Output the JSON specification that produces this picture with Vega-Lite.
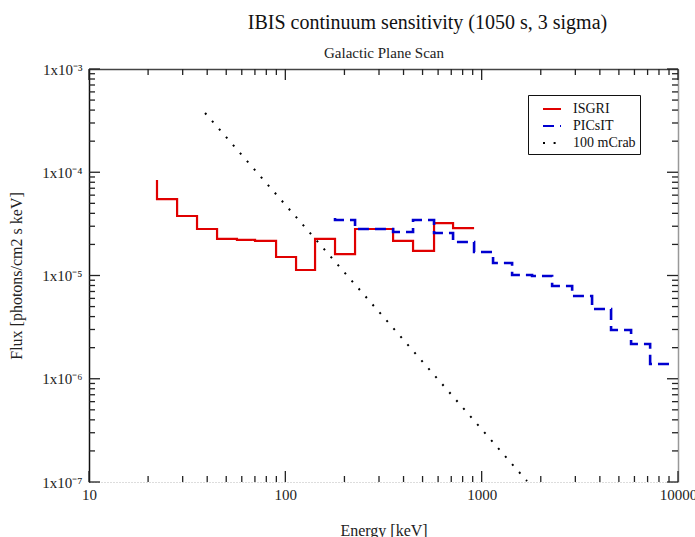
{
  "$schema": "https://vega.github.io/schema/vega-lite/v6.json",
  "width": 589,
  "height": 413,
  "autosize": "none",
  "padding": {"left": 89, "top": 69, "right": 17, "bottom": 55},
  "background": "white",
  "title": {"text": "IBIS continuum sensitivity (1050 s, 3 sigma)", "font": "Liberation Serif", "fontSize": 20, "fontWeight": "normal", "color": "#111", "anchor": "middle", "dx": 44, "dy": -6, "offset": 6},
  "config": {
    "font": "Liberation Serif",
    "view": {"stroke": null},
    "axis": {"grid": false, "labelFont": "Liberation Serif", "labelColor": "#222", "titleFont": "Liberation Serif", "titleFontWeight": "normal", "titleColor": "#222", "labelOverlap": false, "labelFlush": false}
  },
  "datasets": {
    "xminor": [{"E": 20}, {"E": 30}, {"E": 40}, {"E": 50}, {"E": 60}, {"E": 70}, {"E": 80}, {"E": 90}, {"E": 200}, {"E": 300}, {"E": 400}, {"E": 500}, {"E": 600}, {"E": 700}, {"E": 800}, {"E": 900}, {"E": 2000}, {"E": 3000}, {"E": 4000}, {"E": 5000}, {"E": 6000}, {"E": 7000}, {"E": 8000}, {"E": 9000}],
    "xmajor": [{"E": 10}, {"E": 100}, {"E": 1000}, {"E": 10000}],
    "yminor": [{"F": 2e-7}, {"F": 3e-7}, {"F": 4e-7}, {"F": 5e-7}, {"F": 6e-7}, {"F": 7e-7}, {"F": 8e-7}, {"F": 9e-7}, {"F": 2e-6}, {"F": 3e-6}, {"F": 4e-6}, {"F": 5e-6}, {"F": 6e-6}, {"F": 7e-6}, {"F": 8e-6}, {"F": 9e-6}, {"F": 2e-5}, {"F": 3e-5}, {"F": 4e-5}, {"F": 5e-5}, {"F": 6e-5}, {"F": 7e-5}, {"F": 8e-5}, {"F": 9e-5}, {"F": 2e-4}, {"F": 3e-4}, {"F": 4e-4}, {"F": 5e-4}, {"F": 6e-4}, {"F": 7e-4}, {"F": 8e-4}, {"F": 9e-4}],
    "ymajor": [{"F": 1e-7}, {"F": 1e-6}, {"F": 1e-5}, {"F": 1e-4}, {"F": 1e-3}]
  },
  "data": {"values": [
    {"series": "ISGRI", "E": 22.2, "F": 8.4e-5},
    {"series": "ISGRI", "E": 28.1, "F": 5.5e-5},
    {"series": "ISGRI", "E": 35.5, "F": 3.77e-5},
    {"series": "ISGRI", "E": 44.9, "F": 2.82e-5},
    {"series": "ISGRI", "E": 56.7, "F": 2.26e-5},
    {"series": "ISGRI", "E": 70.1, "F": 2.21e-5},
    {"series": "ISGRI", "E": 89.7, "F": 2.16e-5},
    {"series": "ISGRI", "E": 113.4, "F": 1.51e-5},
    {"series": "ISGRI", "E": 141.7, "F": 1.13e-5},
    {"series": "ISGRI", "E": 179.1, "F": 2.26e-5},
    {"series": "ISGRI", "E": 226.5, "F": 1.61e-5},
    {"series": "ISGRI", "E": 283.1, "F": 2.82e-5},
    {"series": "ISGRI", "E": 353.8, "F": 2.82e-5},
    {"series": "ISGRI", "E": 447.2, "F": 2.16e-5},
    {"series": "ISGRI", "E": 572.1, "F": 1.73e-5},
    {"series": "ISGRI", "E": 715, "F": 3.22e-5},
    {"series": "ISGRI", "E": 914.9, "F": 2.88e-5},
    {"series": "PICsIT", "E": 179.1, "F": 3.61e-5},
    {"series": "PICsIT", "E": 226.5, "F": 3.45e-5},
    {"series": "PICsIT", "E": 283.1, "F": 2.82e-5},
    {"series": "PICsIT", "E": 353.8, "F": 2.82e-5},
    {"series": "PICsIT", "E": 447.2, "F": 2.64e-5},
    {"series": "PICsIT", "E": 572.1, "F": 3.45e-5},
    {"series": "PICsIT", "E": 715, "F": 2.58e-5},
    {"series": "PICsIT", "E": 914.9, "F": 2.11e-5},
    {"series": "PICsIT", "E": 1143, "F": 1.69e-5},
    {"series": "PICsIT", "E": 1429, "F": 1.32e-5},
    {"series": "PICsIT", "E": 1806, "F": 1.01e-5},
    {"series": "PICsIT", "E": 2285, "F": 9.89e-6},
    {"series": "PICsIT", "E": 2890, "F": 7.91e-6},
    {"series": "PICsIT", "E": 3650, "F": 6.33e-6},
    {"series": "PICsIT", "E": 4561, "F": 4.74e-6},
    {"series": "PICsIT", "E": 5768, "F": 2.97e-6},
    {"series": "PICsIT", "E": 7212, "F": 2.17e-6},
    {"series": "PICsIT", "E": 9300, "F": 1.39e-6},
    {"series": "100 mCrab", "E": 39, "F": 3.75e-4},
    {"series": "100 mCrab", "E": 1702, "F": 1.02e-7}
  ]},
  "layer": [
    {
      "encoding": {
        "x": {"field": "E", "type": "quantitative",
          "scale": {"type": "log", "domain": [10, 10000], "nice": false},
          "axis": {"orient": "bottom", "title": "Energy [keV]", "titleFontSize": 16, "titlePadding": 20,
            "values": [10, 100, 1000, 10000], "ticks": false,
            "labelExpr": "format(datum.value, 'd')",
            "labelFontSize": 15, "labelPadding": 5,
            "domainColor": "#bbb", "domainDash": [1, 2], "domainWidth": 1}},
        "y": {"field": "F", "type": "quantitative",
          "scale": {"type": "log", "domain": [1e-7, 1e-3], "nice": false},
          "axis": {"orient": "left", "title": "Flux [photons/cm2 s keV]", "titleFontSize": 16, "titlePadding": 17,
            "values": [1e-7, 1e-6, 1e-5, 1e-4, 1e-3], "ticks": false,
            "labelExpr": "round(log(datum.value)/LN10) == -3 ? '1x10⁻³' : round(log(datum.value)/LN10) == -4 ? '1x10⁻⁴' : round(log(datum.value)/LN10) == -5 ? '1x10⁻⁵' : round(log(datum.value)/LN10) == -6 ? '1x10⁻⁶' : '1x10⁻⁷'",
            "labelFontSize": 15, "labelPadding": 7,
            "domainColor": "#111", "domainWidth": 1.5}},
        "color": {"field": "series", "type": "nominal",
          "scale": {"domain": ["ISGRI", "PICsIT", "100 mCrab"], "range": ["#e00000", "#0000d0", "#000000"]},
          "legend": {"orient": "none", "legendX": 439, "legendY": 26, "title": null, "strokeColor": "#111", "fillColor": "white",
            "padding": 4, "rowPadding": 0, "symbolType": "stroke", "symbolSize": 324, "symbolStrokeWidth": 2, "symbolOffset": 10,
            "labelFont": "Liberation Serif", "labelFontSize": 14, "labelColor": "#111", "labelOffset": 11,
            "labelExpr": "datum.label + '\u00a0\u00a0\u00a0\u00a0\u00a0\u00a0\u00a0\u00a0\u00a0'"}},
        "strokeDash": {"field": "series", "type": "nominal",
          "scale": {"domain": ["ISGRI", "PICsIT", "100 mCrab"], "range": [[1, 0], [11, 6], [2, 8.6]]}}
      },
      "layer": [
        {"transform": [{"filter": "datum.series == 'ISGRI'"}],
         "mark": {"type": "line", "interpolate": "step-before", "strokeWidth": 2.2}},
        {"transform": [{"filter": "datum.series == 'PICsIT'"}],
         "mark": {"type": "line", "interpolate": "step-before", "strokeWidth": 2.6}},
        {"transform": [{"filter": "datum.series == '100 mCrab'"}],
         "mark": {"type": "line", "strokeWidth": 2, "strokeCap": "butt"}}
      ]
    },
    {
      "mark": {"type": "point", "opacity": 0},
      "encoding": {
        "x": {"field": "E", "type": "quantitative",
          "scale": {"type": "log", "domain": [10, 10000], "nice": false},
          "axis": {"orient": "top", "title": "Galactic Plane Scan", "titleFontSize": 15, "titlePadding": 9, "labels": false, "ticks": false,
            "values": [10, 100, 1000, 10000], "domainColor": "#444", "domainWidth": 1.5}},
        "y": {"field": "F", "type": "quantitative",
          "scale": {"type": "log", "domain": [1e-7, 1e-3], "nice": false},
          "axis": {"orient": "right", "title": null, "labels": false, "ticks": false,
            "values": [1e-7, 1e-6, 1e-5, 1e-4, 1e-3], "domainColor": "#999", "domainWidth": 1.5}}
      }
    },
    {
      "data": {"name": "xminor"},
      "mark": {"type": "rule", "color": "#222", "strokeWidth": 1.3, "y2Offset": -6},
      "encoding": {
        "x": {"field": "E", "type": "quantitative", "scale": {"type": "log", "domain": [10, 10000], "nice": false}, "axis": null},
        "y": {"datum": 1e-7, "type": "quantitative", "scale": {"type": "log", "domain": [1e-7, 1e-3], "nice": false}, "axis": null},
        "y2": {"datum": 1e-7}
      }
    },
    {
      "data": {"name": "xmajor"},
      "mark": {"type": "rule", "color": "#222", "strokeWidth": 1.3, "y2Offset": -11},
      "encoding": {
        "x": {"field": "E", "type": "quantitative", "scale": {"type": "log", "domain": [10, 10000], "nice": false}, "axis": null},
        "y": {"datum": 1e-7, "type": "quantitative", "scale": {"type": "log", "domain": [1e-7, 1e-3], "nice": false}, "axis": null},
        "y2": {"datum": 1e-7}
      }
    },
    {
      "data": {"name": "xminor"},
      "mark": {"type": "rule", "color": "#222", "strokeWidth": 1.3, "y2Offset": 6},
      "encoding": {
        "x": {"field": "E", "type": "quantitative", "scale": {"type": "log", "domain": [10, 10000], "nice": false}, "axis": null},
        "y": {"datum": 1e-3, "type": "quantitative", "scale": {"type": "log", "domain": [1e-7, 1e-3], "nice": false}, "axis": null},
        "y2": {"datum": 1e-3}
      }
    },
    {
      "data": {"name": "xmajor"},
      "mark": {"type": "rule", "color": "#222", "strokeWidth": 1.3, "y2Offset": 11},
      "encoding": {
        "x": {"field": "E", "type": "quantitative", "scale": {"type": "log", "domain": [10, 10000], "nice": false}, "axis": null},
        "y": {"datum": 1e-3, "type": "quantitative", "scale": {"type": "log", "domain": [1e-7, 1e-3], "nice": false}, "axis": null},
        "y2": {"datum": 1e-3}
      }
    },
    {
      "data": {"name": "yminor"},
      "mark": {"type": "rule", "color": "#222", "strokeWidth": 1.3, "x2Offset": 6},
      "encoding": {
        "y": {"field": "F", "type": "quantitative", "scale": {"type": "log", "domain": [1e-7, 1e-3], "nice": false}, "axis": null},
        "x": {"datum": 10, "type": "quantitative", "scale": {"type": "log", "domain": [10, 10000], "nice": false}, "axis": null},
        "x2": {"datum": 10}
      }
    },
    {
      "data": {"name": "ymajor"},
      "mark": {"type": "rule", "color": "#222", "strokeWidth": 1.3, "x2Offset": 11},
      "encoding": {
        "y": {"field": "F", "type": "quantitative", "scale": {"type": "log", "domain": [1e-7, 1e-3], "nice": false}, "axis": null},
        "x": {"datum": 10, "type": "quantitative", "scale": {"type": "log", "domain": [10, 10000], "nice": false}, "axis": null},
        "x2": {"datum": 10}
      }
    },
    {
      "data": {"name": "yminor"},
      "mark": {"type": "rule", "color": "#222", "strokeWidth": 1.3, "x2Offset": -6},
      "encoding": {
        "y": {"field": "F", "type": "quantitative", "scale": {"type": "log", "domain": [1e-7, 1e-3], "nice": false}, "axis": null},
        "x": {"datum": 10000, "type": "quantitative", "scale": {"type": "log", "domain": [10, 10000], "nice": false}, "axis": null},
        "x2": {"datum": 10000}
      }
    },
    {
      "data": {"name": "ymajor"},
      "mark": {"type": "rule", "color": "#222", "strokeWidth": 1.3, "x2Offset": -11},
      "encoding": {
        "y": {"field": "F", "type": "quantitative", "scale": {"type": "log", "domain": [1e-7, 1e-3], "nice": false}, "axis": null},
        "x": {"datum": 10000, "type": "quantitative", "scale": {"type": "log", "domain": [10, 10000], "nice": false}, "axis": null},
        "x2": {"datum": 10000}
      }
    }
  ],
  "resolve": {"scale": {"x": "independent", "y": "independent"}}
}
